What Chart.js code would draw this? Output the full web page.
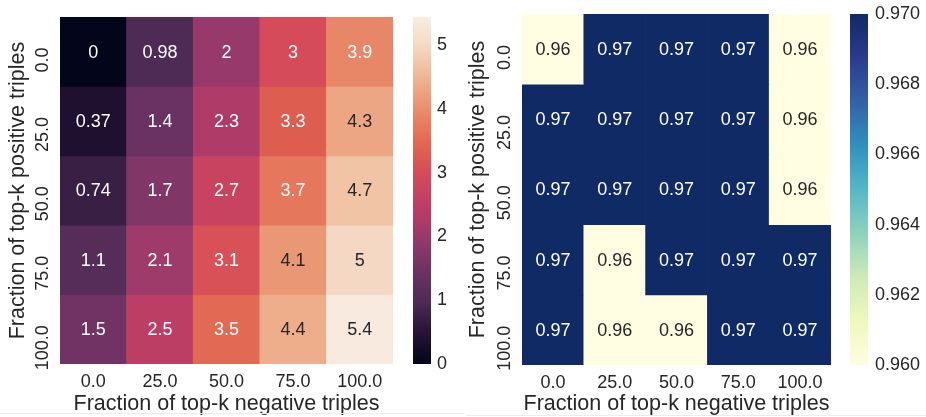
<!DOCTYPE html>
<html>
<head>
<meta charset="utf-8">
<script src="https://cdn.jsdelivr.net/npm/chart.js@4/dist/chart.umd.min.js"></script>
<style>
  html, body { margin: 0; padding: 0; background: #fff; }
  #wrap { position: relative; width: 926px; height: 417px; overflow: hidden; }
  .box { position: absolute; top: 0; height: 417px; }
  .rule { position: absolute; height: 1px; background: #ececec; }
</style>
</head>
<body>
<div id="wrap">
  <div class="box" style="left:0;width:400px"><canvas id="heatLoss"></canvas></div>
  <div class="box" style="left:400px;width:60px"><canvas id="barLoss"></canvas></div>
  <div class="box" style="left:460px;width:380px"><canvas id="heatAcc"></canvas></div>
  <div class="box" style="left:840px;width:86px"><canvas id="barAcc"></canvas></div>
  <div class="rule" style="left:0;width:464px;top:413px"></div>
  <div class="rule" style="left:466px;width:460px;top:415px"></div>
</div>
<script>
// axes
const negLabels = ['0.0', '25.0', '50.0', '75.0', '100.0'];
const posLabels = ['0.0', '25.0', '50.0', '75.0', '100.0'];

// left panel values (rows = positive fraction, cols = negative fraction)
const lossRow0 = [0, 0.98, 2, 3, 3.9];
const lossRow1 = [0.37, 1.4, 2.3, 3.3, 4.3];
const lossRow2 = [0.74, 1.7, 2.7, 3.7, 4.7];
const lossRow3 = [1.1, 2.1, 3.1, 4.1, 5];
const lossRow4 = [1.5, 2.5, 3.5, 4.4, 5.4];
const lossMin = 0, lossMax = 5.44;
const lossTicks = [0, 1, 2, 3, 4, 5];

// right panel values
const accRow0 = [0.96, 0.97, 0.97, 0.97, 0.96];
const accRow1 = [0.97, 0.97, 0.97, 0.97, 0.96];
const accRow2 = [0.97, 0.97, 0.97, 0.97, 0.96];
const accRow3 = [0.97, 0.96, 0.97, 0.97, 0.97];
const accRow4 = [0.97, 0.96, 0.96, 0.97, 0.97];
const accMin = 0.96, accMax = 0.97;
const accTicks = [0.960, 0.962, 0.964, 0.966, 0.968, 0.970];

const xTitle = 'Fraction of top-k negative triples';
const yTitle = 'Fraction of top-k positive triples';

// colormaps (approximate rocket / YlGnBu as seen in the picture)
const rocketStops = [
  [0.00, '#03051a'], [0.10, '#2a1538'], [0.18, '#4e2b55'], [0.26, '#6a3262'],
  [0.37, '#983a6b'], [0.45, '#bb3d66'], [0.55, '#d54b5a'], [0.62, '#e0614f'],
  [0.70, '#e78060'], [0.78, '#eca27f'], [0.86, '#f1c3a4'], [0.93, '#f5dcca'],
  [1.00, '#f8ece2']
];
const ylgnbuStops = [
  [0.000, '#fffde2'], [0.125, '#eff8bd'], [0.250, '#cdebb7'], [0.375, '#8fd1bd'],
  [0.500, '#55b7c6'], [0.625, '#3290bf'], [0.750, '#3262a6'], [0.875, '#2b3b8f'],
  [1.000, '#0f2a64']
];

const hex2rgb = h => [1, 3, 5].map(i => parseInt(h.substr(i, 2), 16));

function sample(stops, t) {
  t = Math.max(0, Math.min(1, t));
  for (let i = 1; i < stops.length; i++) {
    if (t <= stops[i][0]) {
      const [t0, c0] = stops[i - 1], [t1, c1] = stops[i];
      const f = (t - t0) / (t1 - t0);
      const a = hex2rgb(c0), b = hex2rgb(c1);
      return a.map((v, k) => Math.round(v + (b[k] - v) * f));
    }
  }
  return hex2rgb(stops[stops.length - 1][1]);
}

// same rule seaborn uses for annotation colour
function luminance(rgb) {
  const c = rgb.map(v => {
    v /= 255;
    return v <= 0.03928 ? v / 12.92 : Math.pow((v + 0.055) / 1.055, 2.4);
  });
  return 0.2126 * c[0] + 0.7152 * c[1] + 0.0722 * c[2];
}

const FONT = "'Liberation Sans', Arial, sans-serif";
const INK = '#262626';
const TICK_SIZE = 18, TITLE_SIZE = 21.5;
Chart.defaults.font.family = FONT;
Chart.defaults.color = INK;
Chart.defaults.animation = false;

// cell labels
const annotate = {
  id: 'annotate',
  afterDatasetsDraw(chart) {
    const ctx = chart.ctx;
    ctx.save();
    ctx.font = TICK_SIZE + 'px ' + FONT;
    ctx.textAlign = 'center';
    ctx.textBaseline = 'middle';
    chart.data.datasets.forEach((ds, di) => {
      chart.getDatasetMeta(di).data.forEach((bar, j) => {
        const p = bar.getProps(['x', 'y', 'base'], true);
        ctx.fillStyle = ds.textColors[j];
        ctx.fillText(ds.texts[j], p.x, (p.y + p.base) / 2 + 1);
      });
    });
    ctx.restore();
  }
};

const noGrid = { display: false, drawTicks: false };
// rotated row labels hang from just above the row centre (as matplotlib does)
const ROW_TICK_SHIFT = 0.06;

// fixed axis size, and no extra room reserved for overflowing labels
function fixSize(prop, px) {
  return s => {
    s[prop] = px;
    s.paddingTop = s.paddingBottom = s.paddingLeft = s.paddingRight = 0;
  };
}

function heatmap(id, rows, stops, vmin, vmax, fmt, yWidth, padRight, padTop, xHeight) {
  const datasets = rows.map((row, r) => {
    const rgbs = row.map(v => sample(stops, (v - vmin) / (vmax - vmin)));
    return {
      data: row.map(() => [r - 0.5, r + 0.5]),
      backgroundColor: rgbs.map(c => `rgb(${c[0]},${c[1]},${c[2]})`),
      texts: row.map(fmt),
      textColors: rgbs.map(c => luminance(c) > 0.408 ? INK : '#ffffff'),
      barPercentage: 1,
      categoryPercentage: 1,
      borderWidth: 0,
      grouped: false
    };
  });
  return new Chart(document.getElementById(id), {
    type: 'bar',
    data: { labels: negLabels, datasets },
    options: {
      responsive: true,
      maintainAspectRatio: false,
      layout: { padding: { top: padTop, right: padRight, left: 0, bottom: 0 } },
      plugins: { legend: { display: false }, tooltip: { enabled: false } },
      scales: {
        x: {
          grid: noGrid,
          border: { display: false },
          ticks: { font: { size: TICK_SIZE }, padding: 7, maxRotation: 0 },
          title: { display: true, text: xTitle, font: { size: TITLE_SIZE }, padding: { top: 0, bottom: 0 } },
          afterFit: fixSize('height', xHeight)
        },
        y: {
          type: 'linear',
          min: -0.5, max: 4.5,
          reverse: true,
          grid: noGrid,
          border: { display: false },
          afterBuildTicks: s => { s.ticks = posLabels.map((_, i) => ({ value: i - ROW_TICK_SHIFT })); },
          ticks: {
            font: { size: TICK_SIZE },
            callback: v => posLabels[Math.round(v)],
            minRotation: 90, maxRotation: 90,
            crossAlign: 'near',
            padding: 17
          },
          title: { display: true, text: yTitle, font: { size: TITLE_SIZE }, padding: { top: 5, bottom: 0 } },
          afterFit: fixSize('width', yWidth)
        }
      }
    },
    plugins: [annotate]
  });
}

function colorbar(id, stops, vmin, vmax, ticks, fmt, padLeft, axisWidth, padTop, padBottom, tickPad) {
  return new Chart(document.getElementById(id), {
    type: 'bar',
    data: {
      labels: [''],
      datasets: [{
        data: [[vmin, vmax]],
        backgroundColor: c => {
          const a = c.chart.chartArea;
          if (!a) return stops[0][1];
          const g = c.chart.ctx.createLinearGradient(0, a.bottom, 0, a.top);
          stops.forEach(([t, col]) => g.addColorStop(t, col));
          return g;
        },
        barPercentage: 1,
        categoryPercentage: 1,
        borderWidth: 0
      }]
    },
    options: {
      responsive: true,
      maintainAspectRatio: false,
      layout: { padding: { top: padTop, bottom: padBottom, left: padLeft, right: 0 } },
      plugins: { legend: { display: false }, tooltip: { enabled: false } },
      scales: {
        x: { display: false },
        y: {
          position: 'right',
          min: vmin, max: vmax,
          grid: noGrid,
          border: { display: false },
          afterBuildTicks: s => { s.ticks = ticks.map(v => ({ value: v })); },
          ticks: { font: { size: TICK_SIZE }, padding: tickPad, callback: fmt },
          afterFit: fixSize('width', axisWidth)
        }
      }
    }
  });
}

heatmap('heatLoss', [lossRow0, lossRow1, lossRow2, lossRow3, lossRow4], rocketStops,
  lossMin, lossMax, v => String(v), 60, 7, 17, 53);
colorbar('barLoss', rocketStops, lossMin, lossMax, lossTicks, v => String(v), 13, 29, 17, 53, 6);

heatmap('heatAcc', [accRow0, accRow1, accRow2, accRow3, accRow4], ylgnbuStops,
  accMin, accMax, v => v.toFixed(2), 62, 9, 14, 52);
colorbar('barAcc', ylgnbuStops, accMin, accMax, accTicks, v => v.toFixed(3), 10, 58, 14, 52, 7);
</script>
</body>
</html>
